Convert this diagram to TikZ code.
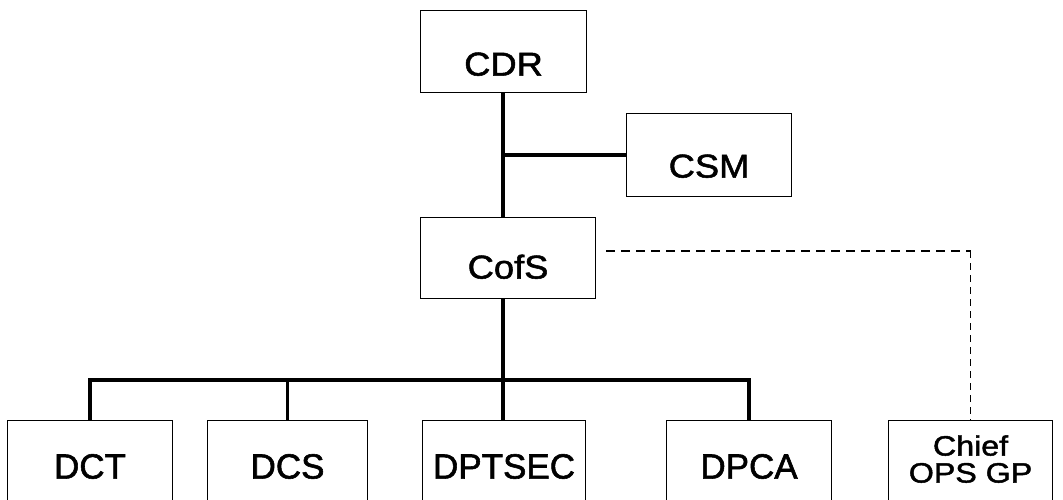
\documentclass[tikz,border=0pt]{standalone}
\usepackage{fontspec}
\setmainfont[FakeBold=1.6]{Liberation Sans}
\newfontfamily\widefont[FakeStretch=1.1,FakeBold=1.6]{Liberation Sans}
\newfontfamily\widerfont[FakeStretch=1.15,FakeBold=1.6]{Liberation Sans}
\begin{document}
\begin{tikzpicture}[x=1pt,y=-1pt,
  box/.style={draw=black, line width=1.1pt, rectangle, inner sep=0pt, anchor=north west},
  topbox/.style={box, font=\widefont\fontsize{33}{33}\selectfont},
  lowbox/.style={box, font=\fontsize{35}{35}\selectfont, minimum height=110pt,
                 text height=58pt, text depth=52pt},
  trunk/.style={line width=3.2pt, line join=miter},
  liaison/.style={dashed, dash pattern=on 9pt off 6pt},
]
\path[use as bounding box] (0,0) rectangle (1063,500);
\clip (0,0) rectangle (1063,500);

% command chain
\node[topbox, minimum width=166pt, minimum height=82pt, text height=65pt, text depth=17pt]
  (cdr) at (420,10) {CDR};
\node[topbox, minimum width=165pt, minimum height=83pt, text height=64pt, text depth=19pt]
  (csm) at (626,113) {CSM};
\node[topbox, minimum width=175pt, minimum height=81pt, text height=61pt, text depth=20pt]
  (cofs) at (420,217) {CofS};

% directorates
\node[lowbox, minimum width=165pt] (dct)    at (7,420)   {DCT};
\node[lowbox, minimum width=160pt] (dcs)    at (207,420) {DCS};
\node[lowbox, minimum width=163pt] (dptsec) at (422,420) {DPTSEC};
\node[lowbox, minimum width=165pt] (dpca)   at (666,420) {DPCA};
\node[box, minimum width=164pt, minimum height=110pt, align=center,
      font=\widerfont\fontsize{28}{27}\selectfont, text height=62pt, text depth=48pt]
  (chief) at (888,420) {Chief\\OPS GP};

% spine and branches
\coordinate (hub) at (503,380);
\draw[trunk] (cdr.south -| hub) -- (cofs.north -| hub);
\draw[trunk] (csm.west -| hub) -- (csm.west);
\draw[trunk] (cofs.south -| hub) -- (hub);
\draw[trunk] (dct.north) -- (dct.north |- hub) -- (dpca.north |- hub) -- (dpca.north);
\draw[trunk] (dcs.north |- hub) -- (dcs.north);
\draw[trunk] (hub) -- (dptsec.north -| hub);

% coordination line
\coordinate (dashstart) at (606,251);
\coordinate (corner) at (chief.north |- dashstart);
\draw[liaison, line width=2pt] (dashstart) -- (corner);
\draw[dashed, dash pattern=on 7pt off 5pt, line width=1.1pt] (corner) -- (chief.north);
\end{tikzpicture}
\end{document}
